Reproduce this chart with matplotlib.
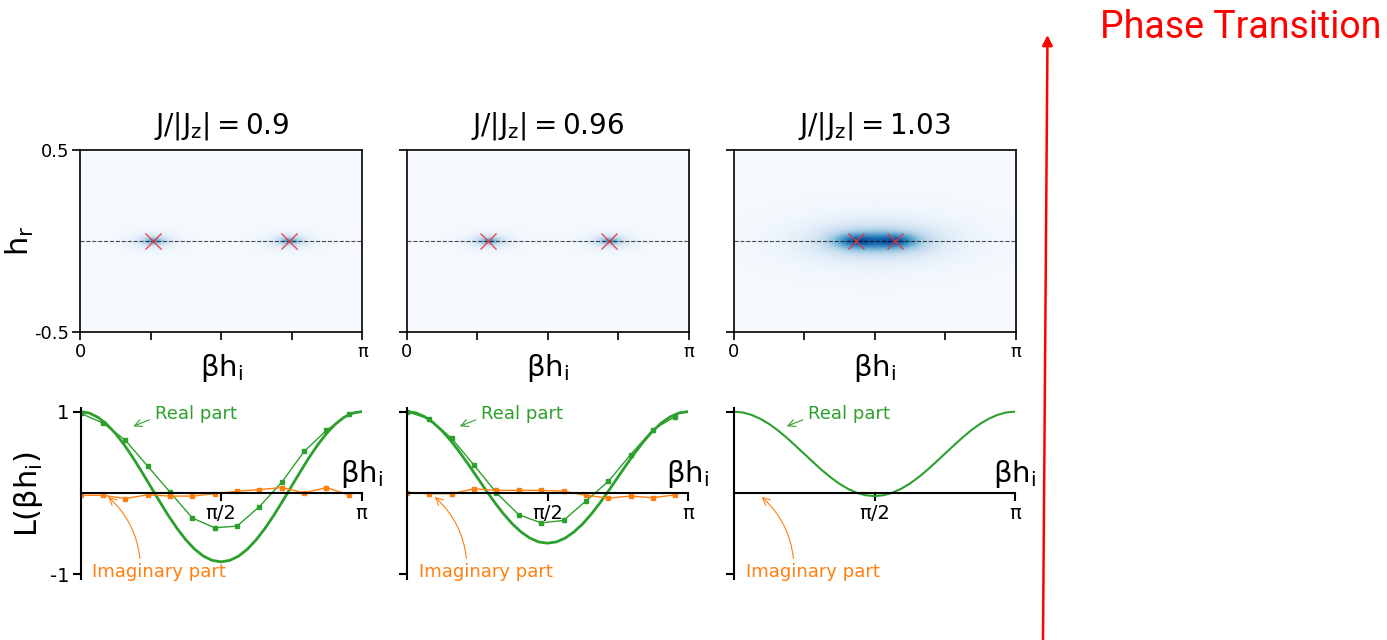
import numpy as np
import matplotlib.pyplot as plt

# --- data ---
couplings = ["0.9", "0.96", "1.03"]

# Lee-Yang zeros (beta*h_i, on h_r = 0)
zeros_09 = [0.815, 2.328]
zeros_096 = [0.910, 2.255]
zeros_103 = [1.362, 1.796]

# blob look of each density map: amplitude, width along beta*h_i, width along h_r
blob_09 = [0.62, 0.13, 0.022]
blob_096 = [0.62, 0.13, 0.022]
blob_103 = [0.72, 0.30, 0.05]

# exact real part, sampled every pi/32
re_09 = [1.0, 0.982, 0.930, 0.844, 0.729, 0.589, 0.429, 0.255, 0.075, -0.105, -0.279, -0.439, -0.579,
         -0.694, -0.780, -0.832, -0.85, -0.832, -0.780, -0.694, -0.579, -0.439, -0.279, -0.105, 0.075,
         0.255, 0.429, 0.589, 0.729, 0.844, 0.930, 0.982, 1.0]
re_096 = [1.0, 0.985, 0.938, 0.863, 0.763, 0.640, 0.500, 0.348, 0.19, 0.032, -0.120, -0.260, -0.383,
          -0.483, -0.558, -0.605, -0.62, -0.605, -0.558, -0.483, -0.383, -0.260, -0.120, 0.032, 0.19,
          0.348, 0.500, 0.640, 0.763, 0.863, 0.938, 0.985, 1.0]
re_103 = [1.0, 0.990, 0.960, 0.912, 0.848, 0.769, 0.679, 0.581, 0.48, 0.379, 0.281, 0.191, 0.112,
          0.048, 0.0, -0.030, -0.04, -0.030, 0.0, 0.048, 0.112, 0.191, 0.281, 0.379, 0.48,
          0.581, 0.679, 0.769, 0.848, 0.912, 0.960, 0.990, 1.0]

# measured points
x_pts = [0.0, 0.25, 0.5, 0.75, 1.0, 1.25, 1.5, 1.75, 2.0, 2.25, 2.5, 2.75, 3.0]
re_pts_09 = [0.98, 0.86, 0.65, 0.33, 0.01, -0.31, -0.43, -0.41, -0.17, 0.13, 0.51, 0.77, 0.97]
im_pts_09 = [-0.03, -0.03, -0.07, -0.025, -0.04, -0.04, -0.01, 0.02, 0.04, 0.065, 0.0, 0.065, -0.025]
re_pts_096 = [1.0, 0.91, 0.67, 0.34, 0.0, -0.27, -0.37, -0.34, -0.10, 0.14, 0.47, 0.78, 0.94]
im_pts_096 = [0.0, -0.01, -0.01, 0.05, 0.03, 0.03, 0.03, 0.02, -0.03, -0.065, -0.04, -0.06, -0.025]

zeros_all = [zeros_09, zeros_096, zeros_103]
blobs_all = [blob_09, blob_096, blob_103]
re_all = [re_09, re_096, re_103]
pts_all = [(re_pts_09, im_pts_09), (re_pts_096, im_pts_096), None]

GREEN = "#2ca02c"
ORANGE = "#ff7f0e"

fig = plt.figure(figsize=(13.87, 6.4), dpi=100)
W, H = 1387.0, 640.0
lefts = [80, 406.5, 733.5]

hi = np.linspace(0, np.pi, 500)
hr = np.linspace(-0.5, 0.5, 300)
HI, HR = np.meshgrid(hi, hr)

for k in range(3):
    # top row: density map
    ax = fig.add_axes([lefts[k] / W, 1 - 331.7 / H, 282.5 / W, 181.7 / H])
    amp, sx, sy = blobs_all[k]
    img = np.zeros_like(HI)
    for z in zeros_all[k]:
        img += amp / (1 + ((HI - z) / sx) ** 2 + (HR / sy) ** 2) ** 1.3
    ax.imshow(img, cmap="Blues", vmin=0, vmax=1, extent=[0, np.pi, -0.5, 0.5],
              origin="lower", aspect="auto", interpolation="bilinear")
    ax.axhline(0, color="k", ls="--", lw=0.8, alpha=0.7)
    ax.plot(zeros_all[k], [0] * len(zeros_all[k]), "x", color="#e8303a", ms=11, mew=1.0, alpha=0.85)
    ax.set_xlim(0, np.pi)
    ax.set_ylim(-0.5, 0.5)
    ax.set_xticks([0, np.pi / 4, np.pi / 2, 3 * np.pi / 4, np.pi])
    ax.set_xticklabels(["0", "", "", "", "π"])
    ax.set_yticks([-0.5, 0.5])
    if k == 0:
        ax.set_yticklabels(["-0.5", "0.5"])
        ax.set_ylabel(r"$\mathrm{h_r}$", fontsize=22)
        ax.yaxis.set_label_coords(-0.155, 0.5)
    else:
        ax.set_yticklabels(["", ""])
    ax.tick_params(direction="out", length=6, width=1.2, labelsize=13, pad=2)
    for s in ax.spines.values():
        s.set_linewidth(1.2)
    ax.set_xlabel(r"$\mathrm{\beta h_i}$", fontsize=21, labelpad=-6)
    ax.set_title(r"$\mathrm{J/|J_z| = %s}$" % couplings[k], fontsize=20, pad=12)

    # bottom row: L(beta h_i)
    bx = fig.add_axes([(lefts[k] + 0.5) / W, 61.1 / H, 281 / W, 170.5 / H])
    bx.plot(np.linspace(0, np.pi, len(re_all[k])), re_all[k], color=GREEN,
            lw=2.0 if k < 2 else 1.5)
    if pts_all[k] is not None:
        re_p, im_p = pts_all[k]
        bx.plot(x_pts, re_p, "-s", color=GREEN, lw=1.0, ms=2.5)
        bx.plot(x_pts, im_p, "-s", color=ORANGE, lw=1.0, ms=2.5)
    bx.set_xlim(0, np.pi)
    bx.set_ylim(-1.06, 1.04)
    bx.spines["top"].set_visible(False)
    bx.spines["right"].set_visible(False)
    bx.spines["bottom"].set_position(("data", 0))
    bx.spines["bottom"].set_linewidth(1.5)
    bx.spines["left"].set_linewidth(1.5)
    bx.set_xticks([np.pi / 2, np.pi])
    bx.set_xticklabels(["π/2", "π"])
    bx.set_yticks([-1, 1])
    bx.set_yticklabels(["-1", "1"] if k == 0 else ["", ""])
    bx.tick_params(direction="out", length=6, width=1.5, labelsize=14, pad=2)
    bx.text(np.pi, 0.23, r"$\mathrm{\beta h_i}$", fontsize=21, ha="center", va="center")
    if k == 0:
        bx.set_ylabel(r"$\mathrm{L(\beta h_i)}$", fontsize=22)
        bx.yaxis.set_label_coords(-0.125, 0.5)

    bx.annotate("Real part", xy=(0.59, 0.82), xytext=(0.83, 0.97), color=GREEN, fontsize=13,
                ha="left", va="center",
                arrowprops=dict(arrowstyle="->", color=GREEN, lw=0.8, relpos=(0, 0.3),
                                shrinkA=2, shrinkB=0))
    bx.annotate("Imaginary part", xy=(0.31, -0.05), xytext=(0.13, -0.97), color=ORANGE,
                fontsize=13, ha="left", va="center",
                arrowprops=dict(arrowstyle="->", color=ORANGE, lw=0.8, relpos=(0.36, 1.0),
                                connectionstyle="arc3,rad=0.2", shrinkA=1, shrinkB=0))

# phase transition arrow
fig.text(1381 / W, 1 - 27 / H, "Phase Transition", color="red", fontsize=27,
         family="Roboto", ha="right", va="center")
fig.add_artist(plt.Annotation("", xy=(1047.5 / W, 1 - 35 / H), xytext=(1043 / W, 0),
                              xycoords="figure fraction", textcoords="figure fraction",
                              arrowprops=dict(arrowstyle="-|>", color="red", lw=1.8,
                                              mutation_scale=15, shrinkA=0, shrinkB=0)))

fig.savefig("out.png", dpi=100)
